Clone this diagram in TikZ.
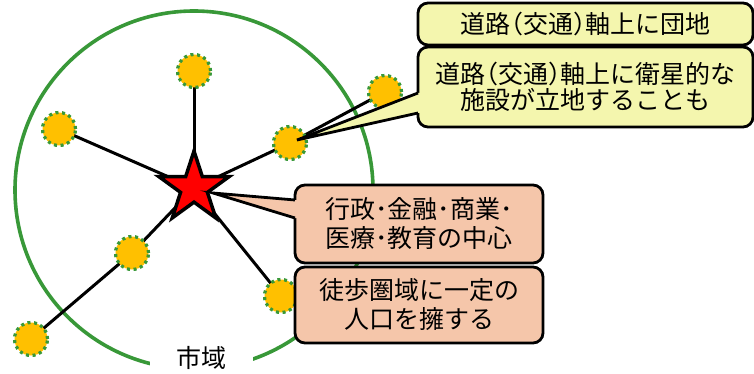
\documentclass[tikz,border=0pt]{standalone}
\usepackage{fontspec}
\setmainfont{Noto Sans CJK JP}
\usetikzlibrary{shapes.geometric,backgrounds}
\definecolor{citygreen}{RGB}{56,152,56}
\definecolor{townorange}{RGB}{255,192,0}
\definecolor{notefill}{RGB}{244,246,174}
\definecolor{focusfill}{RGB}{245,198,170}
\newcommand{\lpar}{\makebox[.5em][r]{（}}
\newcommand{\rpar}{\makebox[.5em][l]{）}}
\tikzset{
  town/.style={circle, fill=townorange, draw=citygreen, line width=3.2pt,
    dash pattern=on 3pt off 3.6pt, minimum size=33pt, inner sep=0pt},
  road/.style={line width=3pt, black},
  note/.style={draw=black, line width=2.8pt, rounded corners=10pt,
    align=center, inner sep=0pt, outer sep=0pt},
  pointer/.style={line width=2.8pt, line join=miter},
}
\begin{document}
\begin{tikzpicture}[x=1pt,y=-1pt]
    \useasboundingbox (0,0) rectangle (754,374);
    \fontsize{25}{29}\selectfont
    % satellite towns round the centre
    \node [star, star points=5, star point ratio=2.618, minimum size=74pt,
      inner sep=0pt, outer sep=0pt, draw, line width=3.5pt, fill=red] (hub) at (194,188) {};
    \node [town] (north) at (194,71) {};
    \node [town] (west) at (59,129) {};
    \node [town] (east) at (290,143) {};
    \node [town] (eastfar) at (385,92) {};
    \node [town] (southwest) at (132,253) {};
    \node [town] (southwestfar) at (31,339) {};
    \node [town] (southeast) at (281,296) {};
    \begin{scope}[on background layer]
      \draw [citygreen, line width=3.6pt] (194,190) circle [radius=179];
      \draw [road] (hub.center) -- (north.center);
      \draw [road] (hub.center) -- (west.center);
      \draw [road] (hub.center) -- (east.center) -- (eastfar.center);
      \draw [road] (hub.center) -- (southwest.center) -- (southwestfar.center);
      \draw [road] (hub.center) -- (southeast.center);
    \end{scope}
    \node [fill=white, minimum width=103pt, minimum height=30pt, inner sep=0pt] (city)
      at (201.5,358) {市域};

    % callouts
    \node [note, fill=notefill, minimum width=335pt, minimum height=42pt] (danchi)
      at (585.5,24) {道路\lpar 交通\rpar 軸上に団地};
    \node [note, fill=notefill, minimum width=335pt, minimum height=80pt,
      font=\fontsize{25}{26}\selectfont] (satellite)
      at (585.5,87) {道路\lpar 交通\rpar 軸上に衛星的な\\施設が立地することも};
    \coordinate (tipA) at (297,140);
    \fill [notefill] (tipA) -- ([yshift=-6pt]satellite.west) -- ([xshift=4pt,yshift=-6pt]satellite.west)
      -- ([xshift=4pt,yshift=-26pt]satellite.west) -- ([yshift=-26pt]satellite.west) -- cycle;
    \draw [pointer] ([yshift=-6pt]satellite.west) -- (tipA) -- ([yshift=-26pt]satellite.west);

    \node [note, fill=focusfill, minimum width=248pt, minimum height=78pt] (centre)
      at (419,224) {行政･金融･商業･\\医療･教育の中心};
    \coordinate (tipB) at (213,193);
    \fill [focusfill] (tipB) -- ([yshift=24pt]centre.west) -- ([xshift=4pt,yshift=24pt]centre.west)
      -- ([xshift=4pt,yshift=6pt]centre.west) -- ([yshift=6pt]centre.west) -- cycle;
    \draw [pointer] ([yshift=24pt]centre.west) -- (tipB) -- ([yshift=6pt]centre.west);
    \node [note, fill=focusfill, minimum width=248pt, minimum height=76pt] (walk)
      at (419,305) {徒歩圏域に一定の\\人口を擁する};
\end{tikzpicture}
\end{document}
